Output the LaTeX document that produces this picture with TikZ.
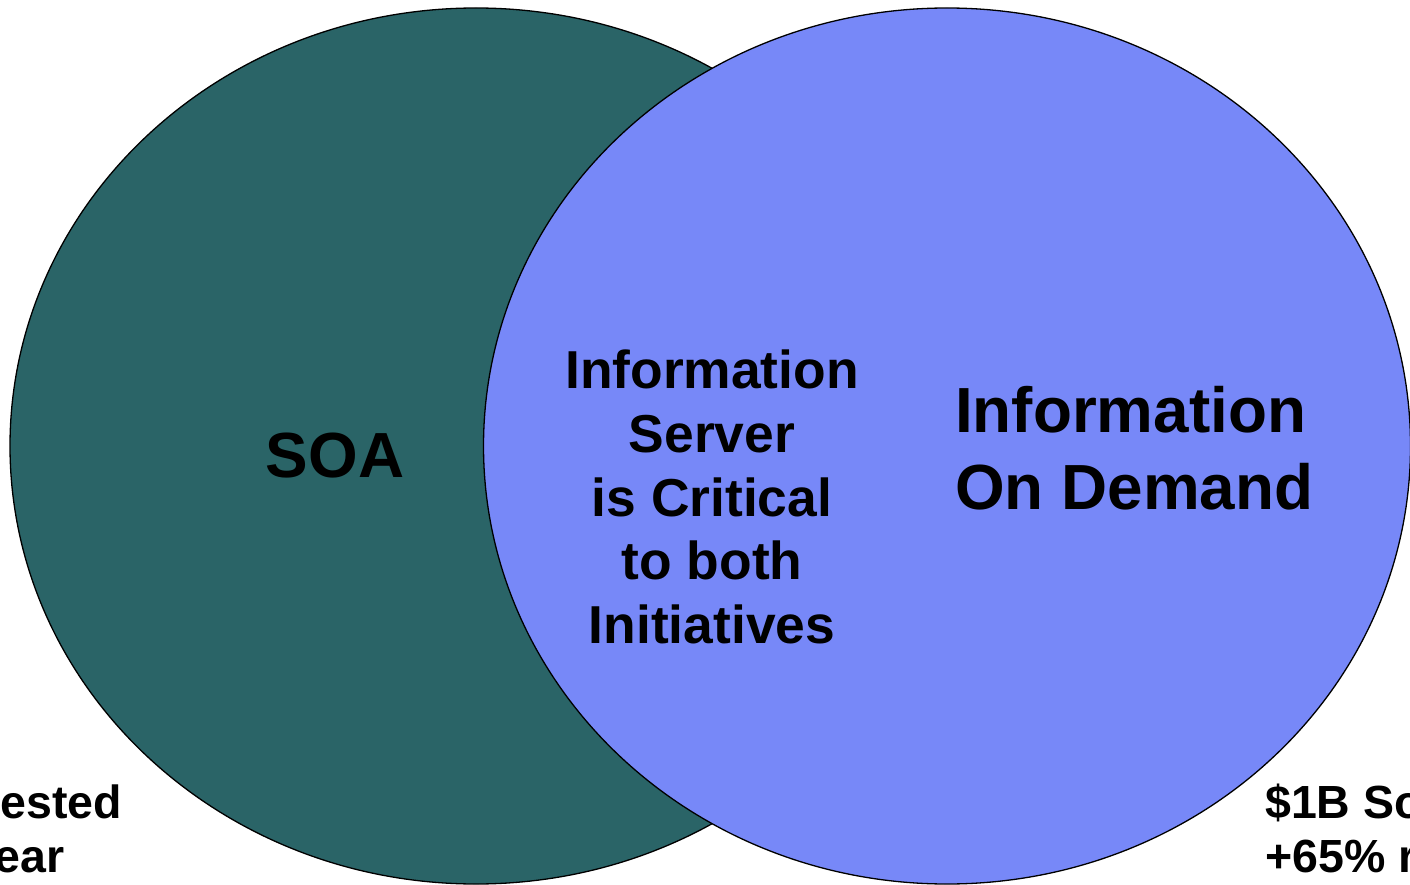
\documentclass[tikz,border=0pt]{standalone}
\usepackage{fontspec}
\setmainfont{Liberation Sans}
\definecolor{soateal}{RGB}{42,100,103}
\definecolor{iodblue}{RGB}{119,136,248}
\tikzset{
  venn/.style={draw=black, line width=1.3pt},
  bigtxt/.style={inner sep=0pt, font=\fontsize{63.8}{77}\selectfont\bfseries},
  midtxt/.style={inner sep=0pt, align=center, font=\fontsize{53.4}{63.75}\selectfont\bfseries},
  sidetxt/.style={inner sep=0pt, font=\fontsize{46.5}{55}\selectfont\bfseries}
}
\begin{document}
\begin{tikzpicture}[x=1pt,y=-1pt]
\useasboundingbox (0,0) rectangle (1410,885);
\fill[white] (0,0) rectangle (1410,885);
\draw[venn, fill=soateal] (476,446) ellipse [x radius=466, y radius=438];
\draw[venn, fill=iodblue] (947,446) ellipse [x radius=463.5, y radius=438];
\node[bigtxt] (soa) at (335,456) {SOA};
\node[midtxt] (mid) at (712,497) {Information\\Server\\is Critical\\to both\\Initiatives};
\node[bigtxt, align=left, anchor=west] (iod) at (955,448) {Information\\On Demand};
\node[sidetxt, anchor=base east] (l1) at (122,818) {ested};
\node[sidetxt, anchor=base east] (l2) at (65,872) {ear};
\node[sidetxt, anchor=base west] (r1) at (1265,818) {\$1B So};
\node[sidetxt, anchor=base west] (r2) at (1265,872) {+65\% r};
\end{tikzpicture}
\end{document}
